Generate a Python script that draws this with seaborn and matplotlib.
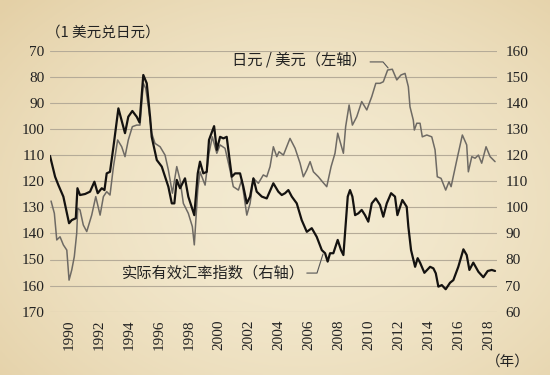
import numpy as np
import pandas as pd
import matplotlib
matplotlib.use("Agg")
import matplotlib.pyplot as plt
import seaborn as sns

# ---------------- data ----------------
reer_year = [1988.73, 1989.07, 1989.29, 1989.62, 1990.00, 1990.18, 1990.45, 1990.56, 1990.73, 1991.07,
             1991.40, 1991.69, 1991.91, 1992.18, 1992.36, 1992.51, 1992.73, 1992.96, 1993.29, 1993.73,
             1993.95, 1994.22, 1994.51, 1994.70, 1994.95, 1995.18, 1995.40, 1995.51, 1995.85, 1996.18,
             1996.62, 1996.85, 1997.02, 1997.18, 1997.40, 1997.73, 1997.95, 1998.35, 1998.58, 1998.73,
             1998.95, 1999.18, 1999.33, 1999.67, 1999.85, 2000.07, 2000.29, 2000.51, 2000.62, 2000.85,
             2001.07, 2001.40, 2001.62, 2001.85, 2002.07, 2002.29, 2002.51, 2002.85, 2003.18, 2003.62,
             2003.95, 2004.18, 2004.40, 2004.62, 2004.85, 2005.18, 2005.51, 2005.85, 2006.18, 2006.51,
             2006.85, 2007.07, 2007.24, 2007.40, 2007.62, 2007.91, 2008.13, 2008.29, 2008.58, 2008.73,
             2008.89, 2009.07, 2009.29, 2009.51, 2009.73, 2009.95, 2010.18, 2010.45, 2010.73, 2010.95,
             2011.18, 2011.47, 2011.73, 2011.89, 2012.07, 2012.22, 2012.51, 2012.62, 2012.80, 2013.07,
             2013.24, 2013.40, 2013.69, 2014.07, 2014.29, 2014.45, 2014.62, 2014.85, 2015.11, 2015.40,
             2015.62, 2015.95, 2016.29, 2016.51, 2016.69, 2016.95, 2017.29, 2017.62, 2017.91, 2018.18,
             2018.40]
reer_value = [119.7, 111.7, 108.5, 104.1, 93.9, 95.1, 95.8, 107.3, 104.7, 105.1,
              106.0, 109.8, 105.4, 107.3, 106.6, 113.0, 113.6, 123.2, 137.9, 128.4,
              134.7, 136.9, 134.7, 132.5, 150.7, 147.5, 134.7, 127.0, 118.1, 115.6,
              107.9, 101.5, 101.5, 110.5, 107.3, 111.1, 104.1, 97.0, 113.0, 117.5,
              113.0, 113.6, 125.8, 131.1, 122.0, 127.0, 126.4, 127.0, 122.0, 111.7,
              113.0, 113.0, 107.9, 101.5, 104.1, 111.1, 106.0, 104.1, 103.4, 109.2,
              106.0, 104.7, 105.4, 106.6, 104.1, 101.5, 95.1, 90.6, 92.0, 88.7,
              83.6, 82.4, 79.2, 82.4, 82.4, 87.5, 83.6, 81.7, 104.1, 106.6,
              104.1, 97.0, 97.7, 99.0, 97.0, 94.5, 101.5, 103.4, 100.9, 96.4,
              101.5, 105.4, 104.1, 97.0, 100.2, 102.8, 100.2, 92.6, 83.6, 77.2,
              80.5, 78.8, 74.9, 77.2, 76.6, 74.7, 69.6, 70.2, 68.6, 71.1,
              72.1, 77.2, 83.9, 81.7, 76.0, 78.8, 75.3, 73.2, 75.6, 76.0,
              75.6]

jpy_year = [1988.80, 1989.02, 1989.18, 1989.40, 1989.62, 1989.85, 1990.00, 1990.18, 1990.35, 1990.51,
            1990.58, 1990.73, 1990.95, 1991.18, 1991.51, 1991.78, 1992.07, 1992.29, 1992.51, 1992.73,
            1992.96, 1993.24, 1993.51, 1993.73, 1993.95, 1994.22, 1994.51, 1994.73, 1994.95, 1995.11,
            1995.29, 1995.51, 1995.73, 1996.07, 1996.40, 1996.62, 1996.89, 1997.18, 1997.40, 1997.62,
            1997.95, 1998.22, 1998.35, 1998.58, 1998.73, 1999.07, 1999.33, 1999.55, 1999.85, 2000.07,
            2000.40, 2000.73, 2000.95, 2001.29, 2001.51, 2001.85, 2002.07, 2002.29, 2002.62, 2002.95,
            2003.18, 2003.40, 2003.62, 2003.85, 2004.00, 2004.29, 2004.73, 2005.07, 2005.40, 2005.62,
            2005.85, 2006.07, 2006.29, 2006.62, 2006.89, 2007.18, 2007.47, 2007.73, 2007.91, 2008.29,
            2008.44, 2008.67, 2008.89, 2009.18, 2009.51, 2009.85, 2010.18, 2010.45, 2010.73, 2010.95,
            2011.24, 2011.55, 2011.85, 2012.13, 2012.40, 2012.62, 2012.73, 2012.95, 2013.02, 2013.18,
            2013.40, 2013.55, 2013.85, 2014.18, 2014.40, 2014.55, 2014.80, 2015.11, 2015.33, 2015.47,
            2015.85, 2016.22, 2016.51, 2016.62, 2016.85, 2017.07, 2017.29, 2017.51, 2017.80, 2018.07,
            2018.40]
jpy_value = [127.6, 132.3, 142.5, 141.3, 144.4, 146.4, 157.9, 154.0, 148.9, 140.0,
             130.4, 131.0, 136.8, 139.3, 133.0, 125.9, 133.0, 125.9, 124.0, 125.3,
             114.4, 104.2, 106.8, 110.6, 104.2, 99.1, 98.5, 98.5, 82.5, 84.4,
             91.5, 101.6, 105.5, 106.8, 110.0, 115.7, 124.6, 114.4, 119.5, 128.5,
             132.3, 137.4, 144.4, 123.4, 116.4, 121.5, 109.3, 103.0, 109.3, 106.1,
             107.4, 115.7, 122.1, 123.4, 119.5, 133.0, 128.5, 118.9, 120.8, 117.6,
             118.3, 114.4, 106.8, 110.6, 108.7, 110.0, 103.6, 107.4, 113.1, 118.3,
             115.7, 112.5, 116.4, 118.3, 120.2, 122.1, 114.4, 109.3, 101.6, 109.3,
             99.1, 90.8, 98.5, 95.3, 89.5, 92.7, 87.6, 82.5, 82.5, 81.9,
             77.4, 77.1, 81.2, 79.3, 78.7, 83.8, 91.5, 96.6, 100.4, 97.8,
             97.8, 103.0, 102.3, 103.0, 108.0, 118.3, 118.9, 123.4, 120.2, 122.1,
             111.9, 102.3, 106.1, 116.4, 110.6, 111.2, 110.0, 113.1, 106.8, 110.6,
             112.5]

year_ticks = list(range(1989, 2019))
year_labels = [str(y) if y % 2 == 0 else "" for y in year_ticks]
left_ticks = [70, 80, 90, 100, 110, 120, 130, 140, 150, 160, 170]
right_ticks = [60, 70, 80, 90, 100, 110, 120, 130, 140, 150, 160]

label_jpy = "日元 / 美元（左轴）"
label_reer = "实际有效汇率指数（右轴）"
unit_left = "（1 美元兑日元）"
unit_x = "（年）"

df_reer = pd.DataFrame({"year": reer_year, "value": reer_value})
df_jpy = pd.DataFrame({"year": jpy_year, "value": jpy_value})

# ---------------- style ----------------
sns.set_theme(style="white")
CJK = ["Noto Sans CJK SC", "DejaVu Sans"]
NUM = ["Liberation Serif", "DejaVu Serif"]
plt.rcParams["font.family"] = CJK

W, H = 5.5, 3.75
fig = plt.figure(figsize=(W, H), dpi=100)

# decorative parchment background
bg = fig.add_axes([0, 0, 1, 1], zorder=-10)
gx, gy = np.meshgrid(np.linspace(0, 1, 220), np.linspace(0, 1, 150))
r = np.sqrt(((gx - 0.55) / 0.75) ** 2 + ((gy - 0.55) / 0.8) ** 2)
t = np.clip(r, 0, 1) ** 1.6
c_in = np.array([244, 235, 210]) / 255
c_out = np.array([228, 208, 166]) / 255
img = c_in[None, None, :] * (1 - t[..., None]) + c_out[None, None, :] * t[..., None]
bg.imshow(img, extent=[0, 1, 0, 1], aspect="auto", origin="upper")
bg.axis("off")

left, right = 50 / 550, 497 / 550
bottom, top = 1 - 311.7 / 375, 1 - 50.7 / 375
ax = fig.add_axes([left, bottom, right - left, top - bottom])
ax.set_facecolor("none")
ax2 = ax.twinx()
ax2.set_facecolor("none")

sns.lineplot(data=df_jpy, x="year", y="value", ax=ax, color="#6e6a64", linewidth=1.1,
             sort=False, estimator=None, zorder=3)
sns.lineplot(data=df_reer, x="year", y="value", ax=ax2, color="#141210", linewidth=1.6,
             sort=False, estimator=None, zorder=4)

ax.set_xlim(1988.73, 2018.53)
ax.set_ylim(170, 70)
ax2.set_ylim(60, 160)

ax.set_yticks(left_ticks)
ax.set_yticklabels([str(v) for v in left_ticks], fontfamily=NUM, fontsize=11, color="#222")
ax2.set_yticks(right_ticks)
ax2.set_yticklabels([str(v) for v in right_ticks], fontfamily=NUM, fontsize=11, color="#222")
ax.set_xticks(year_ticks)
ax.set_xticklabels(year_labels, rotation=90, fontfamily=NUM, fontsize=11, color="#222")

ax.tick_params(axis="y", length=0, pad=4)
ax2.tick_params(axis="y", length=0, pad=6)
ax.tick_params(axis="x", length=3.5, width=0.8, color="#8c8478", direction="inout", pad=4)

ax.yaxis.grid(True, color="#b5ab98", linewidth=0.8)
ax.xaxis.grid(False)
ax2.grid(False)
for a in (ax, ax2):
    for s in a.spines.values():
        s.set_visible(False)
ax.set_xlabel("")
ax.set_ylabel("")
ax2.set_ylabel("")

# units
fig.text(46 / 550, 1 - 33 / 375, unit_left, fontsize=10.5, color="#222", ha="left", va="center",
         family=CJK)
fig.text(508 / 550, 1 - 362 / 375, unit_x, fontsize=10.5, color="#222", ha="center", va="center",
         family=CJK)

# series labels with leader lines (annotation guides, left-axis coordinates)
ax.text(2009.85, 73.6, label_jpy, ha="right", va="center", fontsize=11, color="#222")
ax.plot([2010.07, 2010.93, 2011.27], [74.3, 74.3, 76.6], color="#555", lw=0.8, zorder=5)
ax.text(2005.75, 155.2, label_reer, ha="right", va="center", fontsize=11, color="#222")
ax.plot([2005.85, 2006.53, 2006.93], [155.2, 155.2, 147.9], color="#555", lw=0.8, zorder=5)

fig.savefig("out.png", dpi=100)
